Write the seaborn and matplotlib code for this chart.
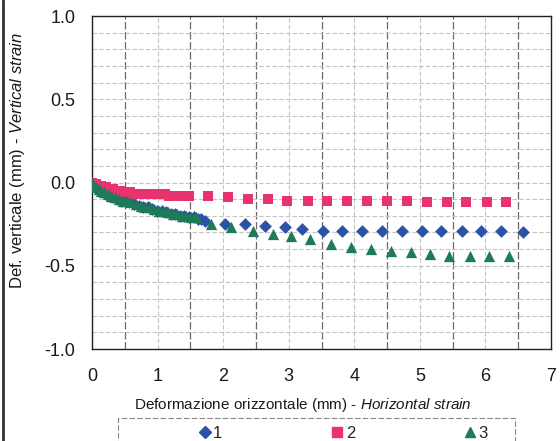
import matplotlib
matplotlib.use("Agg")
import matplotlib.pyplot as plt
from matplotlib.ticker import MultipleLocator, FormatStrFormatter
from matplotlib.patches import Rectangle
from matplotlib.lines import Line2D
import seaborn as sns
import pandas as pd

# Serie 1 (rombi)
x1 = [0.00, 0.02, 0.05, 0.08, 0.12, 0.16, 0.21, 0.26, 0.32, 0.38, 0.44, 0.50,
      0.57, 0.64, 0.71, 0.78, 0.85, 0.92, 0.99, 1.06, 1.13, 1.20, 1.27, 1.34,
      1.41, 1.48, 1.55, 1.62, 1.66,
      1.72, 2.03, 2.33, 2.64, 2.94, 3.21, 3.52, 3.82, 4.12, 4.42, 4.73, 5.03,
      5.33, 5.64, 5.94, 6.24, 6.58]
y1 = [-0.01, -0.02, -0.03, -0.04, -0.05, -0.06, -0.07, -0.08, -0.09, -0.10, -0.11, -0.11,
      -0.12, -0.13, -0.14, -0.15, -0.15, -0.16, -0.17, -0.17, -0.18, -0.19, -0.19, -0.20,
      -0.20, -0.21, -0.21, -0.22, -0.22,
      -0.23, -0.25, -0.25, -0.26, -0.27, -0.28, -0.29, -0.29, -0.29, -0.29, -0.29, -0.29,
      -0.29, -0.29, -0.29, -0.29, -0.30]

# Serie 2 (quadrati)
x2 = [0.00, 0.03, 0.06, 0.10, 0.14, 0.18, 0.22, 0.27, 0.32, 0.37, 0.42, 0.47,
      0.52, 0.58, 0.64, 0.70, 0.76, 0.82, 0.88, 0.94, 1.00, 1.06, 1.12, 1.18,
      1.24, 1.30, 1.36, 1.42, 1.48,
      1.77, 2.08, 2.38, 2.68, 2.98, 3.29, 3.59, 3.89, 4.20, 4.50, 4.80, 5.11,
      5.41, 5.71, 6.02, 6.32]
y2 = [0.00, -0.01, -0.01, -0.02, -0.02, -0.03, -0.03, -0.04, -0.04, -0.05, -0.05, -0.06,
      -0.06, -0.06, -0.07, -0.07, -0.07, -0.07, -0.07, -0.07, -0.07, -0.07, -0.07, -0.08,
      -0.08, -0.08, -0.08, -0.08, -0.08,
      -0.08, -0.09, -0.10, -0.10, -0.11, -0.11, -0.11, -0.11, -0.11, -0.11, -0.11, -0.12,
      -0.12, -0.12, -0.12, -0.12]

# Serie 3 (triangoli)
x3 = [0.00, 0.03, 0.06, 0.10, 0.14, 0.19, 0.24, 0.29, 0.35, 0.41, 0.47, 0.53,
      0.60, 0.67, 0.74, 0.81, 0.88, 0.95, 1.02, 1.09, 1.16, 1.23, 1.30, 1.37,
      1.44, 1.51, 1.58,
      1.82, 2.12, 2.45, 2.76, 3.03, 3.33, 3.64, 3.95, 4.26, 4.56, 4.86, 5.15,
      5.45, 5.76, 6.06, 6.36]
y3 = [0.00, -0.02, -0.03, -0.04, -0.05, -0.06, -0.07, -0.08, -0.09, -0.10, -0.11, -0.11,
      -0.12, -0.13, -0.14, -0.15, -0.15, -0.16, -0.17, -0.17, -0.18, -0.19, -0.19, -0.20,
      -0.20, -0.21, -0.21,
      -0.25, -0.27, -0.29, -0.31, -0.32, -0.34, -0.37, -0.39, -0.40, -0.41, -0.42, -0.43,
      -0.44, -0.44, -0.44, -0.44]

series_names = ["1", "2", "3"]
colors = {"1": "#2A52A6", "2": "#E8336E", "3": "#1F7A58"}
markers = {"1": "D", "2": "s", "3": "^"}
sizes = {"1": 42, "2": 58, "3": 66}

df = pd.concat([
    pd.DataFrame({"x": x1, "y": y1, "serie": "1"}),
    pd.DataFrame({"x": x2, "y": y2, "serie": "2"}),
    pd.DataFrame({"x": x3, "y": y3, "serie": "3"}),
], ignore_index=True)

sns.set_style("white")
plt.rcParams["font.family"] = ["Liberation Sans", "DejaVu Sans"]
plt.rcParams["mathtext.fontset"] = "custom"
plt.rcParams["mathtext.rm"] = "Liberation Sans"
plt.rcParams["mathtext.it"] = "Liberation Sans:italic"

RIGHT = 551
fig = plt.figure(figsize=(5.6, 4.41), dpi=100)
ax = fig.add_axes([92 / 560, 1 - 349 / 441, (RIGHT - 92) / 560, (349 - 16) / 441])

for name in series_names:
    sub = df[df["serie"] == name]
    sns.scatterplot(data=sub, x="x", y="y", marker=markers[name], color=colors[name],
                    s=sizes[name], linewidth=0, ax=ax, legend=False, zorder=3)

ax.set_xlim(0, 7)
ax.set_ylim(-1.0, 1.0)
ax.xaxis.set_major_locator(MultipleLocator(1))
ax.xaxis.set_minor_locator(MultipleLocator(0.5))
ax.yaxis.set_major_locator(MultipleLocator(0.5))
ax.yaxis.set_minor_locator(MultipleLocator(0.1))
ax.yaxis.set_major_formatter(FormatStrFormatter("%.1f"))

ax.xaxis.grid(True, which="major", color="#c4c4c4", linestyle=(0, (4, 2)), linewidth=0.8)
ax.xaxis.grid(True, which="minor", color="#6a6a6a", linestyle=(0, (6, 2)), linewidth=0.9)
ax.yaxis.grid(True, which="both", color="#c4c4c4", linestyle=(0, (4, 2)), linewidth=0.8)
ax.set_axisbelow(True)

ax.tick_params(axis="both", which="both", length=0, labelsize=13, colors="#1a1a1a")
ax.tick_params(axis="x", pad=14)
ax.tick_params(axis="y", pad=12)

for sp in ax.spines.values():
    sp.set_color("#222222")
    sp.set_linewidth(1.0)

ax.set_xlabel(r"Deformazione orizzontale (mm) - $\it{Horizontal\ strain}$",
              fontsize=11, color="#1a1a1a")
ax.xaxis.set_label_coords((303 - 92) / (RIGHT - 92), -(405 - 349) / (349 - 16), transform=ax.transAxes)
ax.xaxis.label.set_va("center")
ax.set_ylabel(r"Def. verticale (mm) - $\it{Vertical\ strain}$",
              fontsize=12, color="#1a1a1a")
ax.yaxis.set_label_coords(-(92 - 18) / (RIGHT - 92), (349 - 160) / (349 - 16), transform=ax.transAxes)
ax.yaxis.label.set_va("center")

# legenda sotto il grafico, con cornice tratteggiata
fig.patches.append(Rectangle((118 / 560, -0.02), (515 - 118) / 560, (441 - 418) / 441 + 0.02,
                             transform=fig.transFigure, fill=False,
                             edgecolor="#888888", linewidth=0.8, linestyle=(0, (5, 2))))
handles = [Line2D([], [], marker=markers[n], color=colors[n], linestyle="none",
                  markersize=6 if n == "1" else 7) for n in series_names]
fig.legend(handles, series_names, loc="center", bbox_to_anchor=(342 / 560, 1 - 433 / 441),
           ncol=3, frameon=False, fontsize=12, handletextpad=0.0,
           columnspacing=6.4, handlelength=1.0)

# bordo sinistro della cornice
fig.add_artist(Line2D([2.5 / 560, 2.5 / 560], [0, 1], transform=fig.transFigure,
                      color="#333333", linewidth=2))

fig.savefig("out.png", dpi=100)
